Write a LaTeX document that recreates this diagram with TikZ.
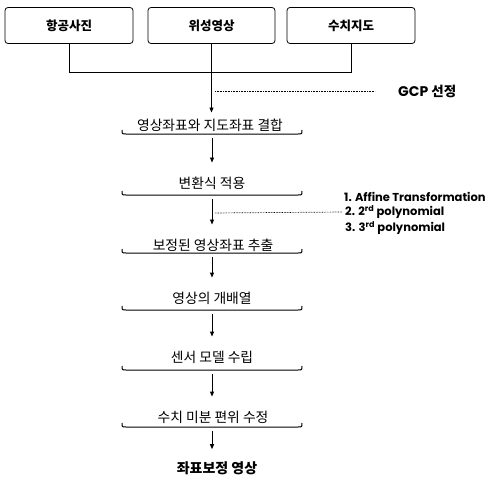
\documentclass[tikz,border=0pt]{standalone}
\usepackage{fontspec}
\setmainfont{Noto Sans CJK KR}
\newfontfamily\lat{Poppins}
\usetikzlibrary{arrows.meta}
\newcommand\brk[2]{%
  \coordinate (#1) at (212,#2);
  \draw[brkt] (122,#2-4) .. controls (122,#2) .. (126,#2) -- (298,#2) .. controls (302,#2) .. (302,#2-4);}
\begin{document}
\begin{tikzpicture}[x=1pt,y=-1pt,
  box/.style={draw, rounded corners=3pt, minimum width=128pt, minimum height=36pt, line width=0.8pt, font=\fontsize{12.5}{14}\selectfont\bfseries},
  stage/.style={inner sep=0pt, font=\fontsize{13.8}{15}\selectfont},
  ln/.style={line width=0.8pt},
  brkt/.style={line width=1pt},
  arr/.style={line width=0.9pt, -{Triangle[length=5pt,width=4pt]}},
  dots/.style={line width=0.7pt, dash pattern=on 0.7pt off 0.9pt},
  lbl/.style={inner sep=0pt, font=\lat\bfseries\fontsize{11.5}{13}\selectfont, anchor=west}]
\useasboundingbox (0,0) rectangle (490,479);
% top boxes
\node[box] (b1) at (69,25.5) {항공사진};
\node[box, minimum width=127pt] (b2) at (211.5,25.5) {위성영상};
\node[box] (b3) at (351,25.5) {수치지도};
\coordinate (j) at (212,72);
\draw[ln] (b1.south) -- (b1.south |- j) -- (b3.south |- j) -- (b3.south);
% stages
\node[stage] (s1) at (210,125) {영상좌표와 지도좌표 결합};
\brk{k1}{134}
\node[stage] (s2) at (212,183) {변환식 적용};
\brk{k2}{195}
\node[stage] (s3) at (213,245) {보정된 영상좌표 추출};
\brk{k3}{253}
\node[stage] (s4) at (212,298) {영상의 개배열};
\brk{k4}{310}
\node[stage] (s5) at (212,357) {센서 모델 수립};
\brk{k5}{370}
\node[stage] (s6) at (213,417) {수치 미분 편위 수정};
\brk{k6}{427}
\node[inner sep=0pt, font=\fontsize{14}{16}\selectfont\bfseries] (fin) at (217,468) {좌표보정 영상};
% arrows
\draw[arr, shorten >=6pt] (b2.south) -- (b2.south |- s1.north);
\draw[arr, shorten <=4pt, shorten >=14pt] (k1) -- (k1 |- s2.north);
\draw[arr, shorten <=4pt, shorten >=14pt] (k2) -- (k2 |- s3.north);
\draw[arr, shorten <=4pt, shorten >=14pt] (k3) -- (k3 |- s4.north);
\draw[arr, shorten <=4pt, shorten >=14pt] (k4) -- (k4 |- s5.north);
\draw[arr, shorten <=4pt, shorten >=14pt] (k5) -- (k5 |- s6.north);
\draw[arr, shorten <=4pt, shorten >=12pt] (k6) -- (k6 |- fin.north);
% GCP annotation
\coordinate (g) at (212,91);
\node[inner sep=0pt, anchor=west, font=\bfseries\fontsize{13.5}{15}\selectfont] (gcp) at (398,91) {{\lat\bfseries\fontsize{14}{15}\selectfont GCP} 선정};
\draw[dots, shorten <=3pt, shorten >=23pt] (g) -- (gcp.west);
% transformation annotation
\node[lbl] (p1) at (344,197) {1. Affine Transformation};
\node[lbl] (p2) at (345,212) {2. 2\textsuperscript{rd} polynomial};
\node[lbl] (p3) at (345,228) {3. 3\textsuperscript{rd} polynomial};
\coordinate (a) at (212,213);
\draw[dots, shorten <=3pt, shorten >=3pt] (a) -- (p2.west);
\end{tikzpicture}
\end{document}
